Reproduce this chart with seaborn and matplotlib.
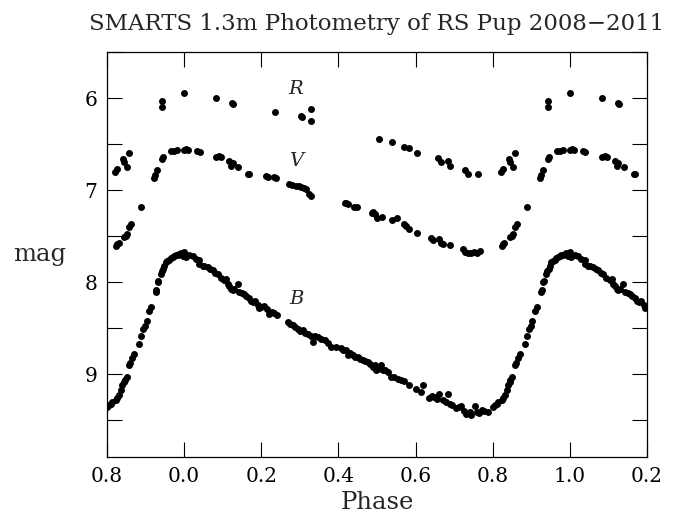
import numpy as np
import pandas as pd
import matplotlib
matplotlib.use("Agg")
import matplotlib.pyplot as plt
import seaborn as sns

# phased photometry of RS Pup, phase in [0, 1)
b_phase = [0.000, 0.004, 0.013, 0.022, 0.030, 0.039, 0.039, 0.048, 0.052, 0.061,
           0.068, 0.074, 0.081, 0.087, 0.095, 0.104, 0.108, 0.113, 0.117, 0.121,
           0.126, 0.130, 0.139, 0.143, 0.150, 0.156, 0.160, 0.169, 0.173, 0.178,
           0.185, 0.191, 0.195, 0.200, 0.208, 0.216, 0.221, 0.228, 0.234, 0.242,
           0.268, 0.275, 0.281, 0.288, 0.294, 0.300, 0.307, 0.314, 0.320, 0.330,
           0.333, 0.340, 0.346, 0.355, 0.364, 0.372, 0.381, 0.395, 0.407, 0.413,
           0.420, 0.424, 0.430, 0.437, 0.444, 0.450, 0.456, 0.463, 0.470, 0.476,
           0.481, 0.489, 0.494, 0.498, 0.502, 0.511, 0.515, 0.522, 0.528, 0.537,
           0.545, 0.554, 0.562, 0.571, 0.584, 0.602, 0.615, 0.619, 0.636, 0.642,
           0.649, 0.655, 0.662, 0.671, 0.678, 0.684, 0.688, 0.695, 0.706, 0.712,
           0.719, 0.726, 0.732, 0.740, 0.745, 0.753, 0.758, 0.764, 0.771, 0.778,
           0.788, 0.801, 0.806, 0.810, 0.814, 0.823, 0.827, 0.831, 0.836, 0.840,
           0.844, 0.846, 0.851, 0.857, 0.860, 0.866, 0.870, 0.883, 0.888, 0.894,
           0.898, 0.903, 0.909, 0.914, 0.926, 0.928, 0.931, 0.933, 0.939, 0.942,
           0.946, 0.949, 0.952, 0.956, 0.961, 0.965, 0.970, 0.974, 0.978, 0.983,
           0.987, 0.991, 0.996]
b_mag = [7.67, 7.73, 7.71, 7.72, 7.75, 7.76, 7.80, 7.82, 7.82, 7.84,
         7.86, 7.87, 7.90, 7.91, 7.95, 7.98, 7.97, 8.02, 8.04, 8.08,
         8.09, 8.07, 8.02, 8.11, 8.12, 8.13, 8.15, 8.17, 8.20, 8.22,
         8.21, 8.25, 8.28, 8.27, 8.26, 8.29, 8.35, 8.32, 8.34, 8.36,
         8.43, 8.45, 8.47, 8.49, 8.51, 8.53, 8.52, 8.55, 8.56, 8.58,
         8.65, 8.59, 8.60, 8.62, 8.63, 8.66, 8.70, 8.71, 8.72, 8.74,
         8.74, 8.79, 8.77, 8.79, 8.81, 8.81, 8.84, 8.85, 8.86, 8.87,
         8.89, 8.92, 8.90, 8.96, 8.94, 8.90, 8.96, 8.95, 8.98, 9.03,
         9.03, 9.05, 9.06, 9.07, 9.12, 9.16, 9.19, 9.12, 9.26, 9.24,
         9.25, 9.27, 9.21, 9.28, 9.30, 9.21, 9.32, 9.33, 9.37, 9.36,
         9.35, 9.40, 9.43, 9.41, 9.44, 9.35, 9.41, 9.42, 9.39, 9.40,
         9.41, 9.36, 9.34, 9.32, 9.30, 9.28, 9.26, 9.23, 9.17, 9.12,
         9.08, 9.06, 9.03, 8.90, 8.88, 8.82, 8.78, 8.67, 8.58, 8.51,
         8.48, 8.42, 8.31, 8.27, 8.11, 8.09, 8.00, 7.99, 7.91, 7.88,
         7.86, 7.83, 7.78, 7.77, 7.76, 7.74, 7.73, 7.72, 7.70, 7.70,
         7.69, 7.68, 7.72]

v_phase = [0.000, 0.005, 0.010, 0.034, 0.040, 0.083, 0.090, 0.096, 0.117, 0.122,
           0.126, 0.140, 0.166, 0.169, 0.213, 0.218, 0.234, 0.238, 0.273, 0.280,
           0.290, 0.297, 0.304, 0.312, 0.317, 0.325, 0.330, 0.416, 0.420, 0.425,
           0.440, 0.447, 0.486, 0.490, 0.495, 0.500, 0.514, 0.540, 0.553, 0.571,
           0.575, 0.584, 0.605, 0.640, 0.645, 0.660, 0.667, 0.670, 0.688, 0.722,
           0.728, 0.735, 0.745, 0.752, 0.758, 0.766, 0.823, 0.826, 0.830, 0.845,
           0.849, 0.852, 0.858, 0.862, 0.888, 0.922, 0.925, 0.930, 0.943, 0.945,
           0.966, 0.975, 0.982]
v_mag = [6.56, 6.55, 6.56, 6.58, 6.59, 6.64, 6.63, 6.64, 6.68, 6.74,
         6.71, 6.75, 6.82, 6.82, 6.85, 6.86, 6.86, 6.87, 6.93, 6.94,
         6.96, 6.96, 6.97, 6.98, 6.99, 7.04, 7.06, 7.14, 7.14, 7.15,
         7.18, 7.18, 7.25, 7.24, 7.26, 7.30, 7.29, 7.32, 7.30, 7.37,
         7.39, 7.42, 7.47, 7.52, 7.54, 7.53, 7.57, 7.59, 7.60, 7.64,
         7.67, 7.68, 7.68, 7.67, 7.68, 7.66, 7.61, 7.59, 7.57, 7.51,
         7.50, 7.48, 7.40, 7.37, 7.18, 6.87, 6.84, 6.78, 6.66, 6.64,
         6.58, 6.57, 6.56]

r_phase = [0.000, 0.083, 0.125, 0.127, 0.236, 0.304, 0.306, 0.330, 0.330, 0.506,
           0.540, 0.571, 0.582, 0.605, 0.657, 0.665, 0.683, 0.688, 0.727, 0.735,
           0.761, 0.821, 0.826, 0.842, 0.844, 0.852, 0.857, 0.943, 0.943]
r_mag = [5.95, 6.00, 6.05, 6.07, 6.15, 6.19, 6.21, 6.12, 6.25, 6.44,
         6.48, 6.53, 6.54, 6.60, 6.65, 6.69, 6.68, 6.74, 6.78, 6.82,
         6.82, 6.80, 6.77, 6.66, 6.70, 6.75, 6.60, 6.03, 6.10]

x_ticks = [-0.2, 0.0, 0.2, 0.4, 0.6, 0.8, 1.0, 1.2]
x_labels = ["0.8", "0.0", "0.2", "0.4", "0.6", "0.8", "1.0", "0.2"]


def wrap(phase, mag, band):
    # repeat the cycle edges so the curve runs from -0.2 to 1.2
    p = np.asarray(phase)
    m = np.asarray(mag)
    lo = p >= 0.8
    hi = p <= 0.2
    return pd.DataFrame({
        "phase": np.concatenate([p, p[lo] - 1, p[hi] + 1]),
        "mag": np.concatenate([m, m[lo], m[hi]]),
        "band": band,
    })


df = pd.concat([wrap(r_phase, r_mag, "R"),
                wrap(v_phase, v_mag, "V"),
                wrap(b_phase, b_mag, "B")], ignore_index=True)

sns.set_style("ticks")
plt.rcParams["font.family"] = ["DejaVu Serif"]

fig = plt.figure(figsize=(6.75, 5.15), dpi=100)
ax = fig.add_axes([0.1585, 0.1126, 0.80, 0.7864])

sns.scatterplot(data=df, x="phase", y="mag", color="black", s=25,
                linewidth=0, legend=False, ax=ax)

ax.set_xlim(-0.2, 1.2)
ax.set_ylim(9.9, 5.5)
ax.set_xticks(x_ticks)
ax.set_xticklabels(x_labels)
y_ticks = np.arange(5.5, 10.0, 0.5)
ax.set_yticks(y_ticks)
ax.set_yticklabels(["" if t % 1 else str(int(t)) for t in y_ticks])
ax.tick_params(direction="in", length=11, width=0.8, top=True, right=True,
               labelsize=14.5, pad=7, colors="black")
for s in ax.spines.values():
    s.set_linewidth(0.9)
    s.set_color("black")

ax.set_xlabel("Phase", fontsize=17.5, labelpad=4)
ax.set_ylabel("mag", fontsize=17.5, rotation=0, labelpad=32, va="center")

ax.text(0.29, 5.9, "R", fontsize=14, style="italic", ha="center", va="center")
ax.text(0.29, 6.68, "V", fontsize=14, style="italic", ha="center", va="center")
ax.text(0.29, 8.18, "B", fontsize=14, style="italic", ha="center", va="center")

ax.set_title("SMARTS 1.3m Photometry of RS Pup 2008\u22122011", fontsize=16.5, pad=16)

fig.savefig("out.png", dpi=100)
